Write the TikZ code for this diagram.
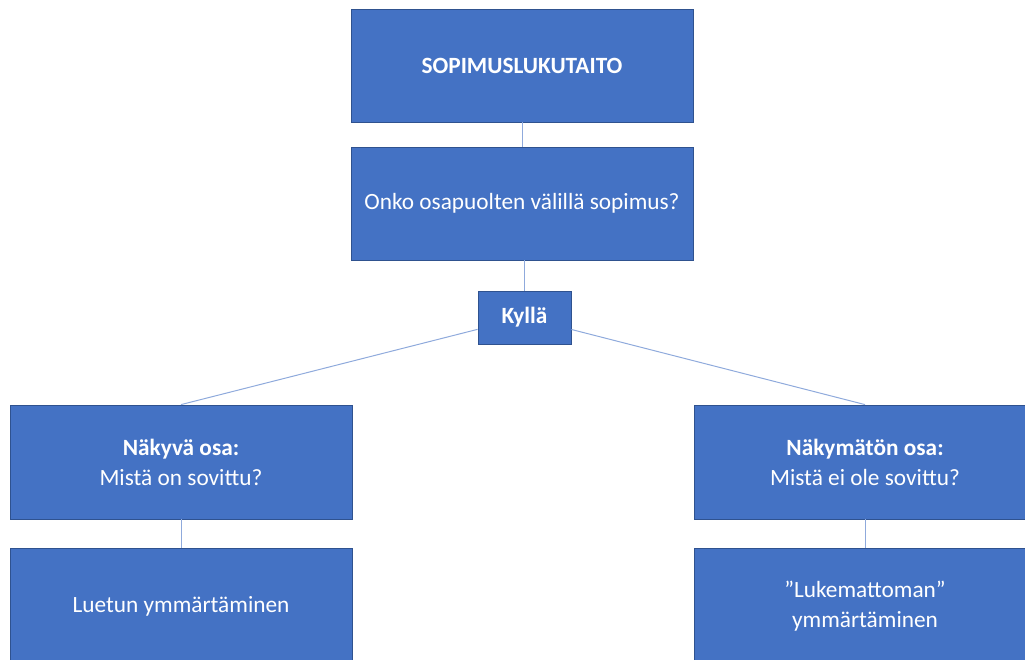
\documentclass[tikz,border=0pt]{standalone}
\usepackage{fontspec}
\setmainfont{Carlito}
\definecolor{boxblue}{HTML}{4472C4}
\definecolor{boxedge}{HTML}{2F528F}
\definecolor{linkblue}{HTML}{8FAADC}
\begin{document}
\begin{tikzpicture}[x=1pt,y=-1pt,
  bx/.style={draw=boxedge,fill=boxblue,line width=0.8pt,text=white,align=center,font=\fontsize{23.3}{30}\selectfont,inner sep=0pt},
  link/.style={draw=linkblue,line width=1pt}]
\useasboundingbox (0,0) rectangle (1025,659);
\node[bx,minimum width=342,minimum height=113] (top) at (522,65.5) {\textbf{SOPIMUSLUKUTAITO}};
\node[bx,minimum width=342,minimum height=113] (q) at (522,203.5) {Onko osapuolten välillä sopimus?};
\node[bx,minimum width=93,minimum height=53] (k) at (524.5,317.5) {\textbf{Kyllä}};
\node[bx,minimum width=342,minimum height=114] (l) at (181,462) {\textbf{Näkyvä osa:}\\Mistä on sovittu?};
\node[bx,minimum width=342,minimum height=114] (r) at (865,462) {\textbf{Näkymätön osa:}\\Mistä ei ole sovittu?};
\node[bx,minimum width=342,minimum height=116] (lb) at (181,606) {Luetun ymmärtäminen};
\node[bx,minimum width=342,minimum height=116] (rb) at (865,606) {”Lukemattoman”\\ymmärtäminen};
\draw[link] (top) -- (q);
\draw[link] (q.south -| k.north) -- (k.north);
\draw[link] (k) -- (l.north);
\draw[link] (k) -- (r.north);
\draw[link] (l) -- (lb);
\draw[link] (r) -- (rb);
\end{tikzpicture}
\end{document}
